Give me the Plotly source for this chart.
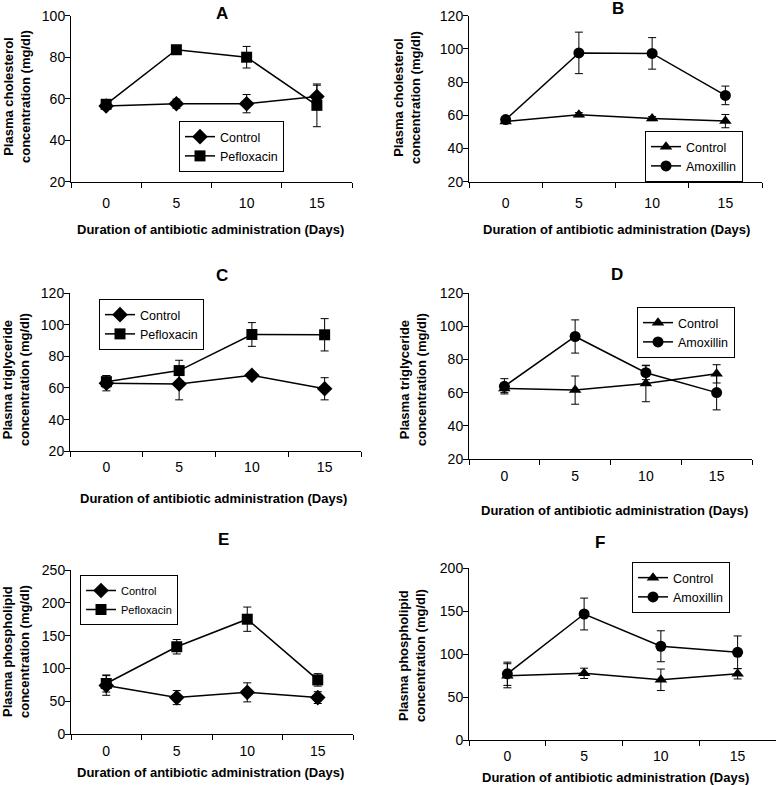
import plotly.graph_objects as go

W, H = 777, 785

days = ["0", "5", "10", "15"]

# A: cholesterol, pefloxacin
a_control = [56.5, 57.6, 57.6, 61.0]
a_control_err = [1.0, 2.2, 4.4, 5.5]
a_pef = [57.3, 83.6, 80.0, 56.8]
a_pef_err = [1.2, 1.8, 5.2, 10.3]

# B: cholesterol, amoxillin
b_control = [56.3, 60.4, 58.0, 56.5]
b_control_err = [1.0, 1.2, 1.2, 4.0]
b_amox = [57.4, 97.6, 97.3, 72.0]
b_amox_err = [1.2, 12.5, 9.5, 5.6]

# C: triglyceride, pefloxacin
c_control = [63.0, 62.5, 68.0, 59.5]
c_control_err = [4.8, 10.0, 1.8, 7.0]
c_pef = [64.0, 71.0, 93.8, 93.6]
c_pef_err = [3.8, 6.5, 7.5, 10.2]

# D: triglyceride, amoxillin
d_control = [62.5, 61.5, 65.5, 71.3]
d_control_err = [2.5, 8.5, 11.0, 5.5]
d_amox = [63.8, 93.8, 72.0, 60.0]
d_amox_err = [4.6, 10.0, 4.2, 10.4]

# E: phospholipid, pefloxacin
e_control = [74.0, 55.5, 63.5, 55.5]
e_control_err = [15.0, 10.7, 14.5, 9.0]
e_pef = [77.0, 133.0, 175.0, 82.5]
e_pef_err = [13.0, 11.0, 18.5, 9.5]

# F: phospholipid, amoxillin
f_control = [74.7, 77.5, 70.0, 77.0]
f_control_err = [14.0, 6.0, 12.5, 6.0]
f_amox = [77.0, 146.5, 109.0, 102.0]
f_amox_err = [13.5, 18.5, 18.0, 19.0]

def fx(px):
    return px / W

def fy(px):
    return 1 - px / H

panels = [
    dict(name="A", ctrl=a_control, ctrl_err=a_control_err, drug=a_pef, drug_err=a_pef_err,
         drug_name="Pefloxacin", ctrl_sym="diamond", drug_sym="square",
         box=(71, 352, 15.7, 181.7), yr=(20, 100), dt=20, title_xy=(222, 14),
         ytitle="Plasma cholesterol", ytitle_xy=(17, 97), xtitle_xy=(210, 230),
         standoff=8, leg=(179, 121), legfont=12.5),
    dict(name="B", ctrl=b_control, ctrl_err=b_control_err, drug=b_amox, drug_err=b_amox_err,
         drug_name="Amoxillin", ctrl_sym="triangle-up", drug_sym="circle",
         box=(469, 762, 15.7, 181.7), yr=(20, 120), dt=20, title_xy=(618, 9),
         ytitle="Plasma cholesterol", ytitle_xy=(407, 98), xtitle_xy=(616, 230),
         standoff=8, leg=(645, 131), legfont=12.5),
    dict(name="C", ctrl=c_control, ctrl_err=c_control_err, drug=c_pef, drug_err=c_pef_err,
         drug_name="Pefloxacin", ctrl_sym="diamond", drug_sym="square",
         box=(70, 361, 293, 451.3), yr=(20, 120), dt=20, title_xy=(222, 276),
         ytitle="Plasma triglyceride", ytitle_xy=(16, 380), xtitle_xy=(213, 498),
         standoff=3, leg=(99, 299), legfont=12.5),
    dict(name="D", ctrl=d_control, ctrl_err=d_control_err, drug=d_amox, drug_err=d_amox_err,
         drug_name="Amoxillin", ctrl_sym="triangle-up", drug_sym="circle",
         box=(469, 752, 293, 459), yr=(20, 120), dt=20, title_xy=(617, 275),
         ytitle="Plasma triglyceride", ytitle_xy=(413, 380), xtitle_xy=(614, 510),
         standoff=4, leg=(637, 307), legfont=12.5),
    dict(name="E", ctrl=e_control, ctrl_err=e_control_err, drug=e_pef, drug_err=e_pef_err,
         drug_name="Pefloxacin", ctrl_sym="diamond", drug_sym="square",
         box=(71, 353, 570, 734), yr=(0, 250), dt=50, title_xy=(223, 539),
         ytitle="Plasma phospholipid", ytitle_xy=(16, 652), xtitle_xy=(210, 772),
         standoff=4, leg=(80, 575), legfont=11),
    dict(name="F", ctrl=f_control, ctrl_err=f_control_err, drug=f_amox, drug_err=f_amox_err,
         drug_name="Amoxillin", ctrl_sym="triangle-up", drug_sym="circle",
         box=(469, 776, 568, 740), yr=(0, 200), dt=50, title_xy=(600, 542),
         ytitle="Plasma phospholipid", ytitle_xy=(412, 656), xtitle_xy=(615, 777),
         standoff=3, leg=(632, 562), legfont=12.5),
]

FONT = "Liberation Sans, Arial, sans-serif"
fig = go.Figure()
layout = dict(width=W, height=H, margin=dict(l=0, r=0, t=0, b=0, pad=0),
              paper_bgcolor="white", plot_bgcolor="white",
              font=dict(family=FONT, color="black", size=13))
annotations = []

for i, p in enumerate(panels):
    n = "" if i == 0 else str(i + 1)
    xa, ya, lg = "x" + n, "y" + n, "legend" + n
    series = [("Control", p["ctrl"], p["ctrl_err"], p["ctrl_sym"]),
              (p["drug_name"], p["drug"], p["drug_err"], p["drug_sym"])]
    for label, vals, err, sym in series:
        size = 12 if sym == "diamond" else 11
        fig.add_trace(go.Scatter(
            x=days, y=vals, name=label, mode="lines+markers",
            xaxis=xa, yaxis=ya, legend=lg, cliponaxis=False,
            line=dict(color="black", width=1.5),
            marker=dict(symbol=sym, size=size, color="black"),
            error_y=dict(type="data", array=err, color="black", thickness=1, width=4),
        ))
    x0, x1, y0, y1 = p["box"]
    layout["xaxis" + n] = dict(
        domain=[fx(x0), min(fx(x1), 1.0)], anchor=ya, type="category", automargin=False,
        tickson="boundaries", ticks="outside", ticklen=5, tickcolor="black",
        showline=True, linecolor="black", linewidth=1, showgrid=False, zeroline=False,
        tickfont=dict(size=14), ticklabelstandoff=p["standoff"], range=[-0.5, 3.5],
    )
    layout["yaxis" + n] = dict(
        domain=[fy(y1), fy(y0)], anchor=xa, range=list(p["yr"]), dtick=p["dt"],
        automargin=False, ticks="outside", ticklen=5, tickcolor="black", showline=True,
        linecolor="black", linewidth=1, showgrid=False, zeroline=False,
        tickfont=dict(size=14), ticklabelstandoff=-3,
    )
    lx, ly = p["leg"]
    layout[lg] = dict(x=fx(lx), y=fy(ly), xanchor="left", yanchor="top",
                      bordercolor="black", borderwidth=1, bgcolor="white",
                      font=dict(size=p["legfont"]))
    tx, ty = p["title_xy"]
    annotations.append(dict(text="<b>" + p["name"] + "</b>", x=fx(tx), y=fy(ty),
                            xref="paper", yref="paper", showarrow=False,
                            xanchor="center", yanchor="middle", font=dict(size=17)))
    ax, ay = p["ytitle_xy"]
    annotations.append(dict(text="<b>" + p["ytitle"] + "<br>concentration (mg/dl)</b>",
                            x=fx(ax), y=fy(ay), xref="paper", yref="paper",
                            showarrow=False, textangle=-90, xanchor="center",
                            yanchor="middle", font=dict(size=13)))
    bx, by = p["xtitle_xy"]
    annotations.append(dict(text="<b>Duration of antibiotic administration (Days)</b>",
                            x=fx(bx), y=fy(by), xref="paper", yref="paper",
                            showarrow=False, xanchor="center", yanchor="middle",
                            font=dict(size=13)))

layout["annotations"] = annotations
fig.update_layout(**layout)
# the page body has a default 8px margin; drop it so the figure fills the window
fig.write_html("out.html", config={"displayModeBar": False},
               post_script="document.body.style.margin='0';")
